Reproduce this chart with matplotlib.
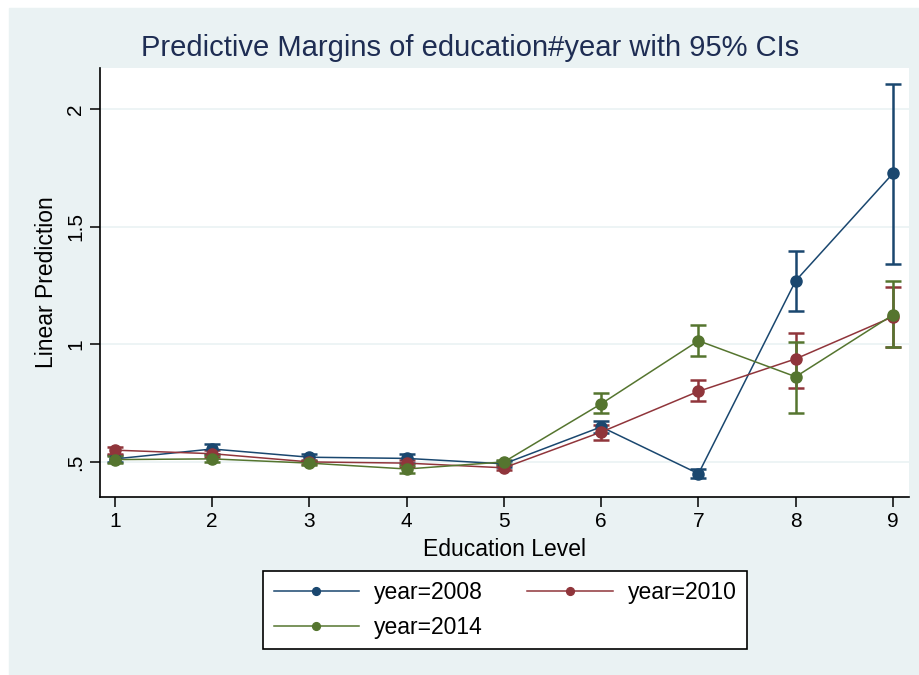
import matplotlib.pyplot as plt

plt.rcParams["font.family"] = ["Liberation Sans", "DejaVu Sans"]

education = [1, 2, 3, 4, 5, 6, 7, 8, 9]

# margins and 95% CI bounds
m2008 = [0.513, 0.555, 0.52, 0.515, 0.492, 0.649, 0.45, 1.27, 1.726]
lo2008 = [0.50, 0.535, 0.505, 0.495, 0.48, 0.625, 0.43, 1.14, 1.343]
hi2008 = [0.53, 0.575, 0.535, 0.535, 0.505, 0.675, 0.47, 1.398, 2.108]

m2010 = [0.55, 0.535, 0.5, 0.495, 0.475, 0.627, 0.80, 0.938, 1.117]
lo2010 = [0.535, 0.52, 0.49, 0.48, 0.465, 0.595, 0.76, 0.815, 0.99]
hi2010 = [0.565, 0.55, 0.51, 0.51, 0.485, 0.655, 0.85, 1.05, 1.245]

m2014 = [0.51, 0.513, 0.495, 0.47, 0.50, 0.747, 1.015, 0.862, 1.125]
lo2014 = [0.495, 0.5, 0.485, 0.455, 0.49, 0.71, 0.95, 0.71, 0.99]
hi2014 = [0.525, 0.528, 0.505, 0.485, 0.51, 0.795, 1.08, 1.01, 1.27]

series = [
    ("year=2008", m2008, lo2008, hi2008, "#1a476f"),
    ("year=2010", m2010, lo2010, hi2010, "#90353b"),
    ("year=2014", m2014, lo2014, hi2014, "#55752f"),
]

bg = "#eaf2f3"
fig = plt.figure(figsize=(9.19, 6.75), dpi=100)
fig.patches.append(plt.Rectangle((9 / 919, 0), 1, 1 - 8 / 675,
                                 transform=fig.transFigure, color=bg, zorder=-10))
ax = fig.add_axes([100 / 919, 1 - 497 / 675, 809 / 919, 429 / 675])
ax.set_facecolor("white")

handles = []
for label, m, lo, hi, c in series:
    err = [[v - l for v, l in zip(m, lo)], [h - v for v, h in zip(m, hi)]]
    ax.errorbar(education, m, yerr=err, fmt="none", ecolor=c, elinewidth=1.8,
                capsize=6, capthick=1.8, zorder=2)
    h, = ax.plot(education, m, color=c, lw=1.1, marker="o", markersize=8,
                 zorder=3, label=label)
    handles.append(h)

ax.set_xlim(0.846, 9.165)
ax.set_ylim(0.351, 2.174)
ax.set_xticks(education)
ax.set_yticks([0.5, 1, 1.5, 2])
ax.set_yticklabels([".5", "1", "1.5", "2"], rotation=90, va="center")
ax.yaxis.grid(True, color=bg, lw=1.2)
ax.set_axisbelow(True)
for s in ["top", "right"]:
    ax.spines[s].set_visible(False)
ax.spines["left"].set_linewidth(1.2)
ax.spines["bottom"].set_linewidth(1.2)
ax.tick_params(labelsize=15, length=7, width=1.1)
ax.set_xlabel("Education Level", fontsize=16.5, labelpad=5)
ax.set_ylabel("Linear Prediction", fontsize=16.5, labelpad=6)

fig.text(470 / 919, 1 - 48 / 675, "Predictive Margins of education#year with 95% CIs",
         ha="center", va="center", fontsize=21, color="#1e2d53")

# matplotlib fills legend column by column; reorder so rows read 2008, 2010 / 2014
order = [handles[0], handles[2], handles[1]]
leg = fig.legend(handles=order, loc="center", bbox_to_anchor=(505 / 919, 1 - 610 / 675),
                 ncol=2, frameon=True, fancybox=False, edgecolor="black",
                 framealpha=1, fontsize=16.5, markerscale=0.7, handlelength=3.75,
                 handletextpad=0.65, columnspacing=1.9, borderpad=0.45,
                 labelspacing=0.5)
leg.get_frame().set_linewidth(1.2)

fig.savefig("out.png", dpi=100)
